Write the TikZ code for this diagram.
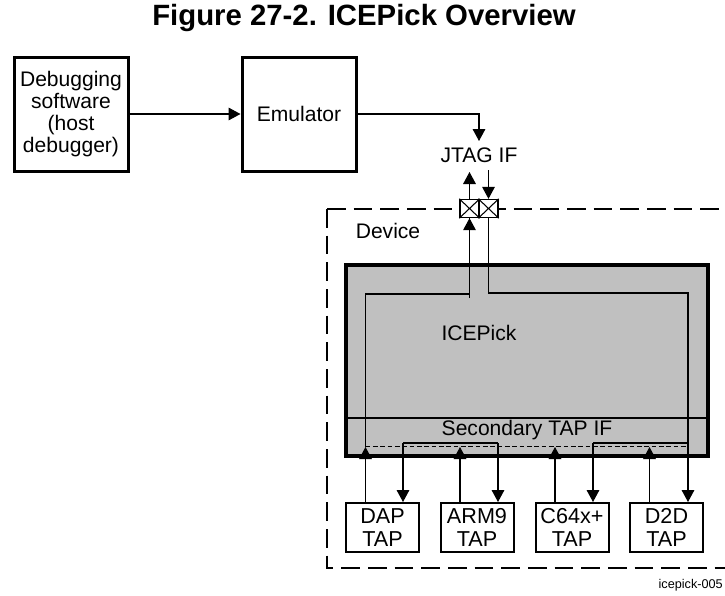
\documentclass[tikz,border=0pt]{standalone}
\usepackage{fontspec}
\setmainfont{Liberation Sans}
\usetikzlibrary{arrows.meta,calc}
\definecolor{icegray}{RGB}{192,192,192}
\begin{document}
\begin{tikzpicture}[x=0.75pt,y=-0.75pt,
  txt/.style={font=\fontsize{15.8}{16.5}\selectfont, inner sep=0pt, align=center},
  bigbox/.style={draw, line width=2.25pt, minimum width=85.5pt, minimum height=85.5pt, inner sep=0pt, align=center, font=\fontsize{15.8}{16.5}\selectfont},
  tapbox/.style={draw, line width=1.5pt, fill=white, minimum width=54.75pt, minimum height=36.75pt, inner sep=0pt, align=center, font=\fontsize{16.2}{17.5}\selectfont},
  pin/.style={draw, line width=1pt, fill=white, minimum width=14.25pt, minimum height=13.5pt, inner sep=0pt},
  wire/.style={line width=0.8pt},
  arr/.style={wire, -{Triangle[width=9.5pt,length=9pt]}},
  devline/.style={line width=2pt, dash pattern=on 14pt off 6pt},
]
\useasboundingbox (0,0) rectangle (725,596);

% title
\node[font=\bfseries\fontsize{22}{25}\selectfont, inner sep=0pt] (title) at (364,18) {Figure 27-2. ICEPick Overview};

% host side
\node[bigbox] (dbg) at (71,114) {Debugging\\software\\(host\\debugger)};
\node[bigbox] (emu) at (299,114) {Emulator};
\draw[arr] (dbg) -- (emu);
\coordinate (jtip) at (479,141);
\draw[arr] (emu.east) -| (jtip);
\node[txt] (jtag) at (479,155) {JTAG IF};

% device boundary
\coordinate (devTL) at (327,209);
\coordinate (devBL) at (327,568);
\coordinate (devTR) at (745,209);
\coordinate (devBR) at (745,568);
\draw[devline] (devTL) -- (devTR);
\draw[devline] (devTL) -- (devBL) -- (devBR);
\node[txt] (dev) at (388,231) {Device};

% ICEPick block
\node[draw, line width=2.5pt, fill=icegray, minimum width=271.5pt, minimum height=143.25pt, inner sep=0pt] (ice) at (527,360.5) {};
\node[txt] (icelbl) at (479,333) {ICEPick};
\draw[wire] (ice.west |- 0,418) -- (ice.east |- 0,418);
\node[txt] (sec) at (527,430) {Secondary TAP IF};

% pins
\node[pin] (p1) at (469.5,208.5) {};
\node[pin] (p2) at (488.5,208.5) {};
\draw[wire] (p1.north west) -- (p1.south east) (p1.north east) -- (p1.south west);
\draw[wire] (p2.north west) -- (p2.south east) (p2.north east) -- (p2.south west);
\coordinate (upTip) at (469.5,172);
\coordinate (dnStart) at (488.5,170);
\draw[arr] (p1.north) -- (upTip);
\draw[arr] (dnStart) -- (p2.north);

% TAP boxes
\node[tapbox] (dap) at (382.5,527.5) {DAP\\TAP};
\node[tapbox] (arm) at (477,527.5) {ARM9\\TAP};
\node[tapbox] (c64) at (572,527.5) {C64x+\\TAP};
\node[tapbox] (d2d) at (666.5,527.5) {D2D\\TAP};

% main chain
\draw[wire] ($(dap.north)+(-17,-55)$) |- (p1.south |- 0,294) -- (p1.south);
\draw[arr] ($(p1.south)+(0,80)$) -- (p1.south);
\draw[arr] (p2.south) |- ($(d2d.north)+(21.5,-209)$) -- ($(d2d.north)+(21.5,0)$);

% dashed select line and bars
\draw[line width=0.6pt, dash pattern=on 3.5pt off 2pt] ($(dap.north)+(-17,-56)$) -- ($(d2d.north)+(21.5,-56)$);
\draw[wire] ($(dap.north)+(20.5,-59)$) -- ($(arm.north)+(21,-59)$);
\draw[wire] ($(c64.north)+(21,-59)$) -- ($(d2d.north)+(21.5,-59)$);

% up arrows (TDO)
\foreach \b in {dap,arm,c64,d2d}{
  \draw[arr] ($(\b.north)+(-17,0)$) -- ++(0,-55);
}
% down arrows (TDI)
\draw[arr] ($(dap.north)+(20.5,-59)$) -- ($(dap.north)+(20.5,0)$);
\draw[arr] ($(arm.north)+(21,-59)$) -- ($(arm.north)+(21,0)$);
\draw[arr] ($(c64.north)+(21,-59)$) -- ($(c64.north)+(21,0)$);

% figure id
\node[font=\fontsize{9.5}{11}\selectfont, anchor=east, inner sep=0pt] (ref) at (723,585) {icepick-005};
\end{tikzpicture}
\end{document}
